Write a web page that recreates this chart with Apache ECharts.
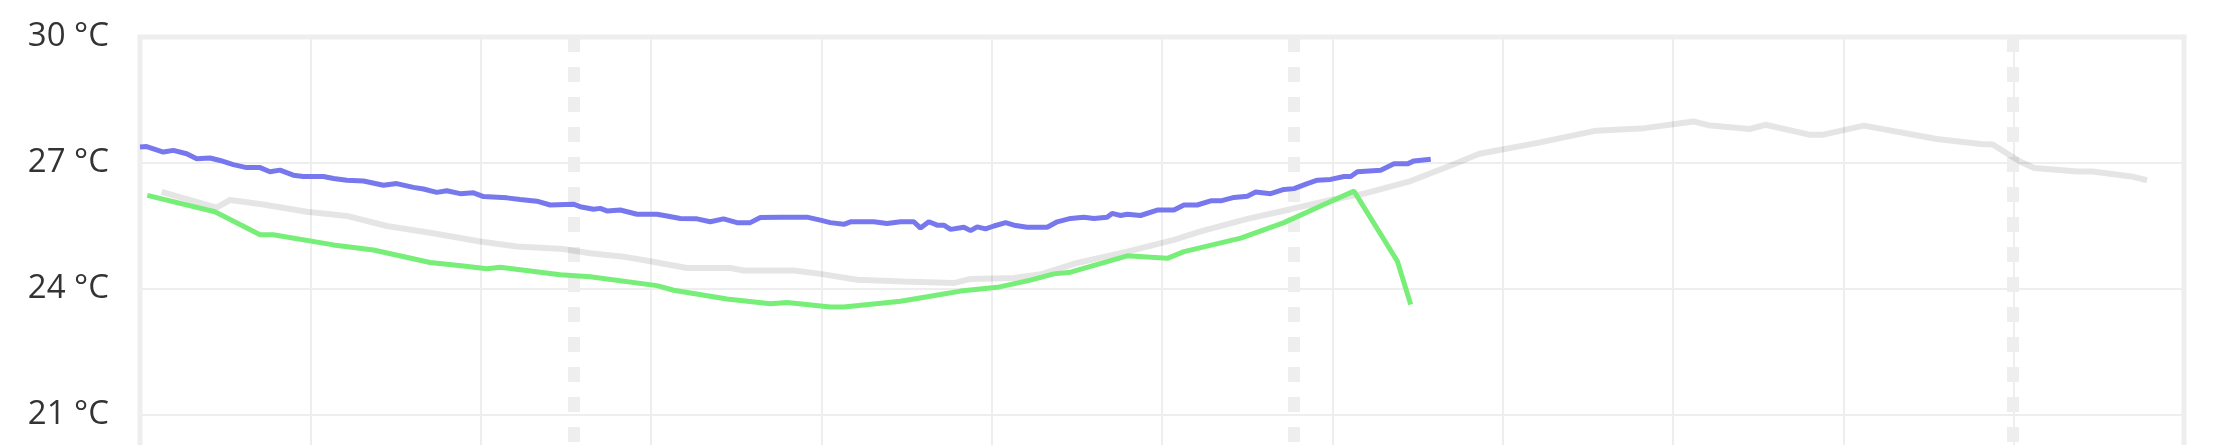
<!DOCTYPE html>
<html>
<head>
<meta charset="utf-8">
<script src="https://cdn.jsdelivr.net/npm/echarts@6/dist/echarts.min.js"></script>
<style>
  html, body { margin: 0; padding: 0; background: #fff; }
  #chart { width: 2214px; height: 445px; }
</style>
</head>
<body>
<div id="chart"></div>
<script>
// x in grid units (0..12), y in °C
const blueSeries = [
  [0.000,27.38],[0.039,27.39],[0.137,27.26],[0.196,27.30],[0.274,27.22],[0.333,27.10],
  [0.411,27.12],[0.470,27.06],[0.548,26.96],[0.626,26.89],[0.705,26.89],[0.763,26.79],
  [0.822,26.83],[0.900,26.71],[0.959,26.68],[1.077,26.68],[1.136,26.63],[1.214,26.59],
  [1.312,26.57],[1.429,26.47],[1.507,26.51],[1.605,26.42],[1.664,26.38],[1.742,26.30],
  [1.801,26.34],[1.880,26.27],[1.958,26.29],[2.017,26.20],[2.154,26.17],[2.232,26.13],
  [2.330,26.09],[2.408,26.00],[2.545,26.02],[2.584,25.96],[2.663,25.90],[2.702,25.92],
  [2.741,25.86],[2.820,25.88],[2.918,25.78],[3.035,25.78],[3.094,25.74],[3.172,25.68],
  [3.270,25.67],[3.348,25.60],[3.426,25.67],[3.505,25.58],[3.583,25.58],[3.642,25.70],
  [3.759,25.71],[3.916,25.71],[3.994,25.64],[4.053,25.58],[4.132,25.54],[4.171,25.60],
  [4.308,25.60],[4.386,25.56],[4.465,25.60],[4.543,25.60],[4.582,25.45],[4.631,25.60],
  [4.680,25.52],[4.719,25.52],[4.759,25.42],[4.837,25.47],[4.876,25.39],[4.915,25.48],
  [4.964,25.43],[5.013,25.50],[5.082,25.58],[5.131,25.52],[5.209,25.47],[5.326,25.47],
  [5.385,25.60],[5.463,25.68],[5.541,25.71],[5.600,25.68],[5.678,25.71],[5.707,25.80],
  [5.757,25.75],[5.796,25.78],[5.874,25.75],[5.972,25.88],[6.070,25.88],[6.129,26.00],
  [6.207,26.00],[6.286,26.10],[6.345,26.10],[6.423,26.18],[6.501,26.21],[6.550,26.31],
  [6.638,26.27],[6.716,26.37],[6.775,26.39],[6.853,26.51],[6.912,26.59],[6.990,26.61],
  [7.069,26.68],[7.108,26.68],[7.147,26.79],[7.284,26.83],[7.362,26.98],[7.441,26.98],
  [7.480,27.05],[7.578,27.09]
];

const graySeries = [
  [0.127,26.31],[0.450,25.94],[0.529,26.12],[0.724,26.01],[0.979,25.84],[1.214,25.74],
  [1.449,25.50],[1.703,25.34],[1.997,25.13],[2.212,25.01],[2.486,24.95],[2.643,24.85],
  [2.839,24.77],[2.996,24.66],[3.211,24.50],[3.466,24.50],[3.544,24.44],[3.838,24.44],
  [3.994,24.36],[4.210,24.22],[4.484,24.18],[4.778,24.14],[4.876,24.24],[5.131,24.26],
  [5.288,24.35],[5.482,24.60],[5.796,24.89],[6.070,25.17],[6.227,25.37],[6.501,25.67],
  [6.756,25.90],[6.990,26.12],[7.186,26.27],[7.460,26.57],[7.695,26.94],[7.863,27.22],
  [8.206,27.48],[8.549,27.77],[8.834,27.83],[9.120,27.99],[9.206,27.90],[9.449,27.81],
  [9.543,27.91],[9.806,27.67],[9.877,27.67],[10.120,27.89],[10.549,27.57],[10.806,27.45],
  [10.877,27.44],[11.034,27.04],[11.120,26.88],[11.377,26.80],[11.463,26.80],[11.691,26.68],
  [11.783,26.59]
];

const greenSeries = [
  [0.043,26.23],[0.440,25.84],[0.705,25.29],[0.783,25.29],[1.136,25.05],[1.371,24.93],
  [1.703,24.63],[1.899,24.55],[2.036,24.48],[2.115,24.52],[2.467,24.34],[2.643,24.29],
  [3.035,24.08],[3.133,23.97],[3.446,23.76],[3.701,23.65],[3.799,23.68],[4.053,23.57],
  [4.132,23.57],[4.465,23.71],[4.700,23.87],[4.817,23.95],[5.033,24.04],[5.228,24.21],
  [5.365,24.36],[5.463,24.40],[5.796,24.79],[6.031,24.73],[6.129,24.89],[6.462,25.21],
  [6.716,25.58],[6.951,26.01],[7.127,26.33],[7.382,24.66],[7.460,23.63]
];

const dayMarkers = [2.549, 6.772, 10.996];

const yMin = 18, yMax = 30, yStep = 3;
const xMin = 0, xMax = 12, xStep = 1;

const chart = echarts.init(document.getElementById('chart'), null, { renderer: 'canvas' });

chart.setOption({
  animation: false,
  backgroundColor: '#ffffff',
  grid: {
    left: 140, right: 30, top: 37, bottom: -96,
    containLabel: false, outerBoundsMode: 'none',
    show: true, borderColor: '#eeeeee', borderWidth: 5, backgroundColor: 'transparent'
  },
  xAxis: {
    type: 'value', min: xMin, max: xMax, interval: xStep,
    axisLine: { show: false }, axisTick: { show: false }, axisLabel: { show: false },
    splitLine: { show: true, lineStyle: { color: '#eeeeee', width: 2 } }
  },
  yAxis: {
    type: 'value', min: yMin, max: yMax, interval: yStep,
    axisLine: { show: false }, axisTick: { show: false },
    axisLabel: {
      formatter: '{value} °C', fontSize: 33, fontFamily: 'Open Sans',
      color: '#333333', margin: 31
    },
    splitLine: { show: true, lineStyle: { color: '#eeeeee', width: 2 } }
  },
  series: [
    {
      type: 'line', data: [], z: 1,
      markLine: {
        silent: true, symbol: 'none', z: 1, label: { show: false },
        lineStyle: { color: '#eeeeee', width: 12, type: [15, 15], opacity: 1 },
        emphasis: { disabled: true },
        data: dayMarkers.map(v => [{ coord: [v, yMax] }, { coord: [v, yMin] }])
      }
    },
    {
      type: 'line', data: graySeries, showSymbol: false, z: 2,
      lineStyle: { color: 'rgba(0,0,0,0.1)', width: 6 }, itemStyle: { color: 'rgba(0,0,0,0.1)' }
    },
    {
      type: 'line', data: blueSeries, showSymbol: false, z: 3,
      lineStyle: { color: '#7878ee', width: 5 }, itemStyle: { color: '#7878ee' }
    },
    {
      type: 'line', data: greenSeries, showSymbol: false, z: 4,
      lineStyle: { color: '#77ee77', width: 5 }, itemStyle: { color: '#77ee77' }
    }
  ]
});
</script>
</body>
</html>
